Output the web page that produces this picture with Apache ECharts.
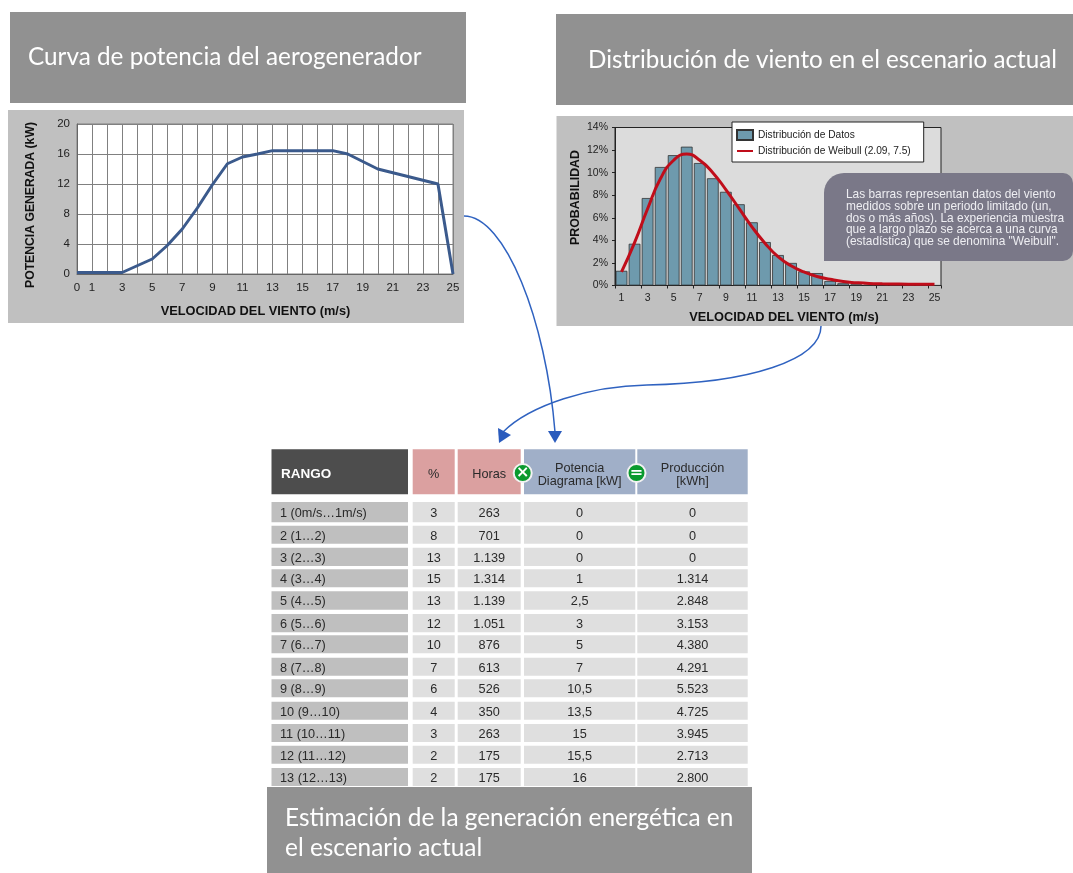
<!DOCTYPE html>
<html>
<head>
<meta charset="utf-8">
<style>html,body{margin:0;padding:0;background:#fff}#c{width:1073px;height:873px}</style>
<script src="https://cdn.jsdelivr.net/npm/echarts@6/dist/echarts.min.js"></script>
</head>
<body>
<div id="c"></div>
<script>
// --- Power curve
const powerCurve = [[0,0.2],[1,0.2],[2,0.2],[3,0.2],[4,1.1],[5,2],[6,3.8],[7,6],[8,8.8],[9,11.9],[10,14.7],[11,15.6],[12,16],[13,16.45],[14,16.45],[15,16.45],[16,16.45],[17,16.45],[18,16],[19,15],[20,14],[21,13.5],[22,13],[23,12.5],[24,12],[25,0]];
const powerXLabels = [0,1,3,5,7,9,11,13,15,17,19,21,23,25];
// --- Wind distribution
const windCategories = ['1','2','3','4','5','6','7','8','9','10','11','12','13','14','15','16','17','18','19','20','21','22','23','24','25'];
const windBars = [1.3,3.7,7.75,10.5,11.55,12.3,10.85,9.5,8.3,7.2,5.6,3.85,2.7,2.0,1.25,1.1,0.4,0.2,0.1,0.05,0.04,0.03,0.02,0.02,0.01];
const weibull = [1.2,3.8,6.8,9.5,11.1,11.65,11.1,10,8.5,6.85,5.2,3.75,2.55,1.75,1.2,0.8,0.55,0.35,0.25,0.18,0.15,0.13,0.12,0.12,0.1];
const calloutLines = ['Las barras representan datos del viento','medidos sobre un periodo limitado (un,','dos o más años). La experiencia muestra','que a largo plazo se acerca a una curva','(estadística) que se denomina "Weibull".'];
// --- Table
const tableHeaders = ['RANGO','%','Horas','Potencia\nDiagrama [kW]','Producción\n[kWh]'];
const tableRanges = ['1 (0m/s…1m/s)','2 (1…2)','3 (2…3)','4 (3…4)','5 (4…5)','6 (5…6)','7 (6…7)','8 (7…8)','9 (8…9)','10 (9…10)','11 (10…11)','12 (11…12)','13 (12…13)'];
const tablePercent = ['3','8','13','15','13','12','10','7','6','4','3','2','2'];
const tableHours = ['263','701','1.139','1.314','1.139','1.051','876','613','526','350','263','175','175'];
const tablePower = ['0','0','0','1','2,5','3','5','7','10,5','13,5','15','15,5','16'];
const tableProduction = ['0','0','0','1.314','2.848','3.153','4.380','4.291','5.523','4.725','3.945','2.713','2.800'];

const SANS = '"Liberation Sans",Arial,sans-serif';
const BANNER = 'Lato,"Open Sans",sans-serif';
const g = [];
function rect(x,y,w,h,fill,z,r){g.push({type:'rect',z:z==null?-5:z,shape:{x:x,y:y,width:w,height:h,r:r||0},style:{fill:fill},silent:true});}
function text(x,y,t,o){o=o||{};g.push({type:'text',z:o.z==null?10:o.z,x:x,y:y,silent:true,style:{text:t,fill:o.fill||'#2a2a2a',font:(o.weight||'normal')+' '+(o.size||12.5)+'px '+(o.family||SANS),align:o.align||'center',verticalAlign:'middle',lineHeight:o.lh||undefined}});}

// banners and panels
rect(10,12,456,91,'#919191');
rect(556,14,517,91,'#919191');
rect(8,110,456,213,'#c0c0c0');
rect(556.5,116,516.5,210,'#c0c0c0');
text(28,57,'Curva de potencia del aerogenerador',{fill:'#fff',size:24.3,align:'left',family:BANNER});
text(588,60,'Distribución de viento en el escenario actual',{fill:'#fff',size:24.2,align:'left',family:BANNER});

// callout
rect(824,173,249,88,'#7a7888',60,[20,10,10,0]);
calloutLines.forEach(function(l,i){text(846,195+i*11.67,l,{fill:'#eeeef2',size:11.9,align:'left',z:61});});

// table
const colX = [271.5,412.7,457.7,524,637.3];
const colW = [136.5,42,63,111.3,110.4];
const headFill = ['#4d4d4d','#dba0a0','#dba0a0','#a0afc8','#a0afc8'];
const rowY = [502,525.7,547.7,569.3,591.3,614,635.3,657.7,679.3,701.7,724,745.7,768];
const rowH = [20.3,18,18.3,18,18.4,18.3,18,18,18,18,18,18,18];
tableHeaders.forEach(function(h,c){
  rect(colX[c],449.3,colW[c],45,headFill[c],2);
  if(c===0) text(281,474,h,{fill:'#fff',weight:'bold',size:13.5,align:'left'});
  else text(colX[c]+colW[c]/2,c>2?475:474,h,{size:12.7,lh:13});
});
const cols = [tableRanges,tablePercent,tableHours,tablePower,tableProduction];
tableRanges.forEach(function(_,r){
  cols.forEach(function(col,c){
    rect(colX[c],rowY[r],colW[c],rowH[r],c===0?'#bfbfbf':'#dfdfdf',2);
    if(c===0) text(280,rowY[r]+rowH[r]/2+1.3,col[r],{align:'left',size:12.7});
    else text(colX[c]+colW[c]/2,rowY[r]+rowH[r]/2+1.3,col[r],{size:12.7});
  });
});
[[522.7,'×'],[636.5,'=']].forEach(function(p){
  g.push({type:'circle',z:12,silent:true,shape:{cx:p[0],cy:473,r:9},style:{fill:'#0a9a2e',stroke:'#f2f2f2',lineWidth:2}});
  text(p[0],473,p[1],{fill:'#fff',weight:'bold',size:16,z:13,family:'"DejaVu Sans",sans-serif'});
});

// bottom banner
rect(267,787,485,86,'#919191',20);
text(285,818,'Estimación de la generación energética en',{fill:'#fff',size:24.4,align:'left',family:BANNER,z:21});
text(285,848,'el escenario actual',{fill:'#fff',size:24.4,align:'left',family:BANNER,z:21});

// arrows
const ARROW = '#2f62c0';
function curve(a,b,c,d){g.push({type:'bezierCurve',z:30,silent:true,shape:{x1:a[0],y1:a[1],cpx1:b[0],cpy1:b[1],cpx2:c[0],cpy2:c[1],x2:d[0],y2:d[1]},style:{stroke:ARROW,lineWidth:1.5,fill:'none'}});}
curve([464,216],[505,216],[546,320],[555,432]);
curve([821,326],[821,360],[750,383],[647,385]);
curve([647,385],[590,386],[530,405],[503,432]);
g.push({type:'polygon',z:31,silent:true,shape:{points:[[548,431],[562,431],[555,443]]},style:{fill:'#2a5bbd'}});
g.push({type:'polygon',z:31,silent:true,shape:{points:[[498,428],[511,435],[499,443]]},style:{fill:'#2a5bbd'}});

const axisName = function(size,padding){return {fontFamily:SANS,fontWeight:'bold',fontSize:size,color:'#111',padding:padding};};
const option = {
  animation:false,
  backgroundColor:'#fff',
  textStyle:{fontFamily:SANS},
  legend:{
    show:true,left:732,top:122,orient:'vertical',padding:[7,13,6,4],itemWidth:16,itemHeight:10,itemGap:5,
    backgroundColor:'#fff',borderColor:'#222',borderWidth:1,z:20,
    textStyle:{fontFamily:SANS,fontSize:10.2,color:'#222'},
    data:[{name:'Distribución de Datos',icon:'rect'},{name:'Distribución de Weibull (2.09, 7.5)',itemStyle:{opacity:0}}]
  },
  grid:[
    {left:77,top:124,width:376,height:150,show:true,backgroundColor:'#fff',borderColor:'#808080',borderWidth:1},
    {left:615,top:127.5,width:326,height:158,show:true,backgroundColor:'#dcdcdc',borderColor:'#222',borderWidth:1}
  ],
  xAxis:[
    {type:'value',gridIndex:0,min:0,max:25,interval:1,name:'VELOCIDAD DEL VIENTO (m/s)',nameLocation:'middle',nameGap:31,nameTextStyle:axisName(12.8,[0,19,0,0]),
     axisLine:{lineStyle:{color:'#666'}},axisTick:{show:false},splitLine:{show:true,lineStyle:{color:'#808080',width:1}},
     axisLabel:{margin:8,fontSize:11.5,color:'#222',hideOverlap:false,showMinLabel:true,showMaxLabel:true,
       formatter:function(v){return powerXLabels.indexOf(v)>=0?String(v):'';}}},
    {type:'category',gridIndex:1,data:windCategories,name:'VELOCIDAD DEL VIENTO (m/s)',nameLocation:'middle',nameGap:25,nameTextStyle:axisName(12.8,[0,0,0,12]),
     axisLine:{lineStyle:{color:'#222'}},axisTick:{show:true,alignWithLabel:false,length:3,lineStyle:{color:'#222'}},splitLine:{show:false},
     axisLabel:{interval:1,margin:7,fontSize:10.5,color:'#222'}}
  ],
  yAxis:[
    {type:'value',gridIndex:0,min:0,max:20,interval:4,name:'POTENCIA GENERADA (kW)',nameLocation:'middle',nameGap:40,nameTextStyle:axisName(12.2,[0,12,0,0]),
     axisLine:{show:true,lineStyle:{color:'#666'}},axisTick:{show:false},splitLine:{show:true,lineStyle:{color:'#808080',width:1}},
     axisLabel:{margin:7,fontSize:11.5,color:'#222'}},
    {type:'value',gridIndex:1,min:0,max:14,interval:2,name:'PROBABILIDAD',nameLocation:'middle',nameGap:33,nameTextStyle:axisName(12.4,[0,0,0,18]),
     axisLine:{show:true,lineStyle:{color:'#222'}},axisTick:{show:true,length:3,lineStyle:{color:'#222'}},splitLine:{show:false},
     axisLabel:{margin:7,fontSize:10.5,color:'#222',formatter:'{value}%'}}
  ],
  series:[
    {name:'Curva de potencia',type:'line',xAxisIndex:0,yAxisIndex:0,data:powerCurve,showSymbol:false,lineStyle:{color:'#3b5a8c',width:3},itemStyle:{color:'#3b5a8c'},z:5},
    {name:'Distribución de Datos',type:'bar',xAxisIndex:1,yAxisIndex:1,data:windBars,barCategoryGap:'10%',itemStyle:{color:'#6e9aad',borderColor:'#333',borderWidth:0.8},z:3},
    {name:'Distribución de Weibull (2.09, 7.5)',type:'line',xAxisIndex:1,yAxisIndex:1,data:weibull,smooth:true,showSymbol:false,symbol:'none',lineStyle:{color:'#c00d1a',width:3},itemStyle:{color:'#c00d1a'},z:6}
  ],
  graphic:{elements:g}
};
const chart = echarts.init(document.getElementById('c'),null,{renderer:'canvas'});
chart.setOption(option);
</script>
</body>
</html>
